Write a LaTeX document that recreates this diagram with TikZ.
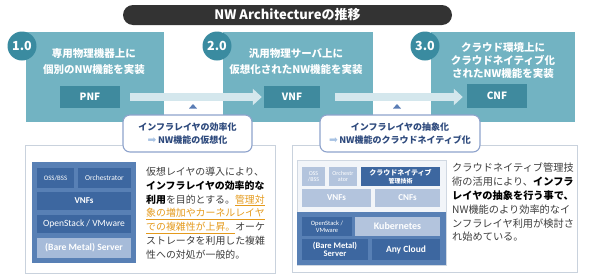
\documentclass[tikz,border=0pt]{standalone}
\usepackage{fontspec}
\setmainfont{Noto Sans CJK JP}
\newfontfamily\lat{Carlito}
\newfontfamily\sym{DejaVu Sans}
\usetikzlibrary{arrows.meta}
\definecolor{verteal}{HTML}{72B3C2}
\definecolor{circteal}{HTML}{3A8BA0}
\definecolor{nfteal}{HTML}{3F8A9E}
\definecolor{arrlight}{HTML}{D4E7ED}
\definecolor{titlebg}{HTML}{333333}
\definecolor{navy}{HTML}{2E4A7D}
\definecolor{callborder}{HTML}{8EA3CC}
\definecolor{tricol}{HTML}{5A7DB5}
\definecolor{panelborder}{HTML}{C9D2DD}
\definecolor{frameblue}{HTML}{5880B5}
\definecolor{blockdark}{HTML}{3D67A0}
\definecolor{blocklight}{HTML}{B3C4DD}
\definecolor{baremetal}{HTML}{A6BBD9}
\definecolor{upperbg}{HTML}{F2F5F9}
\definecolor{upperborder}{HTML}{D0D8E2}
\definecolor{textgray}{HTML}{3C3C3C}
\definecolor{hiorange}{HTML}{E49A1C}
\definecolor{arrowicon}{HTML}{A7C2E3}
\begin{document}
\begin{tikzpicture}[x=1pt,y=-1pt,
  verbox/.style={fill=verteal, draw=none, minimum height=90, inner sep=0},
  vertext/.style={text=white, font=\fontsize{10.5}{16.5}\selectfont\bfseries, align=center, inner sep=0},
  vercirc/.style={circle, fill=circteal, minimum size=29, inner sep=0, text=white, font=\fontsize{12.5}{14}\selectfont\bfseries},
  nfbox/.style={fill=nfteal, minimum height=22, inner sep=0, text=white, font=\fontsize{10}{12}\selectfont\bfseries},
  bigarrow/.style={draw=arrlight, line width=8pt, -{Triangle[length=9pt,width=16pt]}},
  callout/.style={draw=callborder, line width=1.1pt, fill=white, rounded corners=7pt, align=center, text=navy, font=\fontsize{9}{13}\selectfont\bfseries, inner sep=0},
  panel/.style={draw=panelborder, line width=0.8pt, inner sep=0},
  dblk/.style={fill=blockdark, text=white, inner sep=0, align=center, font=\lat\fontsize{7.5}{8}\selectfont},
  lblk/.style={fill=blocklight, text=white, inner sep=0, align=center, font=\lat\fontsize{7.5}{8}\selectfont},
  desc/.style={align=left, inner sep=0, text=textgray}
]
\useasboundingbox (0,0) rectangle (590,279);

% title
\node[fill=titlebg, rounded corners=10pt, minimum width=329, minimum height=20, inner sep=0,
  text=white, font=\fontsize{13}{15}\selectfont\bfseries] (title) at (287.5,15) {NW Architectureの推移};

% version boxes
\node[verbox, minimum width=138] (box1) at (95,77) {};
\node[verbox, minimum width=150] (box2) at (298,77) {};
\node[verbox, minimum width=144] (box3) at (503,77) {};

\node[vertext] (t1) at (94,61.5) {専用物理機器上に\\個別のNW機能を実装};
\node[vertext] (t2) at (296,61.5) {汎用物理サーバ上に\\仮想化されたNW機能を実装};
\node[vertext, font=\fontsize{10.5}{13}\selectfont\bfseries] (t3) at (503,61) {クラウド環境上に\\クラウドネイティブ化\\されたNW機能を実装};

\node[nfbox, minimum width=60] (PNF) at (90,97) {PNF};
\node[nfbox, minimum width=56] (VNF) at (292,97) {VNF};
\node[nfbox, minimum width=60, minimum height=24] (CNF) at (497,95.5) {CNF};

\draw[bigarrow, shorten <=10pt, shorten >=2pt] (PNF.east) -- (VNF.west);
\draw[bigarrow, shorten <=15pt, shorten >=4pt] (VNF.east) -- (CNF.west |- VNF.west);

\node[vercirc] (c1) at (22,46) {1.0};
\node[vercirc] (c2) at (217,46) {2.0};
\node[vercirc] (c3) at (425,46) {3.0};

% small triangles
\fill[tricol] (189,108.5) -- (197,108.5) -- (193,104) -- cycle;
\fill[tricol] (393,108.5) -- (401,108.5) -- (397,104) -- cycle;

% panels
\node[panel, minimum width=250, minimum height=128] (panelL) at (150,209) {};
\node[panel, minimum width=285, minimum height=127] (panelR) at (434.5,208.5) {};

% callouts
\node[callout, minimum width=129, minimum height=37] (call1) at (187.5,133.5)
  {インフラレイヤの効率化\\{\sym\mdseries\fontsize{10.5}{13}\selectfont\color{arrowicon}➡}\,NW機能の仮想化};
\node[callout, minimum width=160, minimum height=37] (call2) at (400,133.5)
  {インフラレイヤの抽象化\\{\sym\mdseries\fontsize{10.5}{13}\selectfont\color{arrowicon}➡}\,NW機能のクラウドネイティブ化};

% left stack
\node[fill=frameblue, minimum width=104, minimum height=101, inner sep=0] (lframe) at (84,212.5) {};
\node[dblk, minimum width=37, minimum height=20, font=\lat\fontsize{6.8}{7}\selectfont] (lOSS) at (55.5,178) {OSS/BSS};
\node[dblk, minimum width=53, minimum height=20, font=\lat\fontsize{7.5}{8}\selectfont] (lOrch) at (104.5,178) {Orchestrator};
\node[dblk, minimum width=94, minimum height=18, font=\lat\fontsize{9}{10}\selectfont\bfseries] (lVNFs) at (84,201) {VNFs};
\node[dblk, minimum width=94, minimum height=18, font=\lat\fontsize{9.5}{10}\selectfont] (lOpen) at (84,224) {OpenStack / VMware};
\node[dblk, fill=baremetal, minimum width=94, minimum height=20, font=\lat\fontsize{9.6}{10}\selectfont\bfseries] (lBare) at (84,248) {(Bare Metal) Server};

\node[desc, anchor=north west, font=\fontsize{9.9}{13.8}\selectfont] (ldesc) at (146,167)
  {仮想レイヤの導入により、\\
   {\bfseries\color{black}インフラレイヤの効率的な}\\
   {\bfseries\color{black}利用}を目的とする。{\color{hiorange}\underline{管理対}}\\
   {\color{hiorange}\underline{象の増加やカーネルレイヤ}}\\
   {\color{hiorange}\underline{での複雑性が上昇。}}オーケ\\
   ストレータを利用した複雑\\
   性への対処が一般的。};

% right stack
\node[fill=upperbg, draw=upperborder, line width=0.6pt, minimum width=149, minimum height=105, inner sep=0] (rframeup) at (371.5,212.5) {};
\node[fill=frameblue, minimum width=149, minimum height=53, inner sep=0] (rframe) at (371.5,238.5) {};
\node[lblk, minimum width=23, minimum height=19, font=\lat\fontsize{6}{6.5}\selectfont] (rOSS) at (313.5,176.5) {OSS\\/BSS};
\node[lblk, minimum width=28, minimum height=19, font=\lat\fontsize{6}{6.5}\selectfont] (rOrch) at (343,176.5) {Orchestr\\ator};
\node[dblk, minimum width=79, minimum height=19, font=\fontsize{7}{8}\selectfont\bfseries] (rMgmt) at (400.5,176.5) {クラウドネイティブ\\{\fontsize{6}{7}\selectfont 管理技術}};
\node[lblk, minimum width=69, minimum height=18, font=\lat\fontsize{9}{10}\selectfont\bfseries] (rVNFs) at (336.5,198) {VNFs};
\node[lblk, minimum width=65, minimum height=18, font=\lat\fontsize{9}{10}\selectfont\bfseries] (rCNFs) at (407.5,198) {CNFs};
\node[dblk, minimum width=50, minimum height=19, font=\lat\fontsize{6.5}{7}\selectfont] (rOpen) at (327,226.5) {OpenStack /\\VMware};
\node[lblk, minimum width=85, minimum height=19, font=\lat\fontsize{10}{11}\selectfont\bfseries] (rKube) at (397.5,226.5) {Kubernetes};
\node[dblk, minimum width=66, minimum height=21, font=\lat\fontsize{8.5}{8.5}\selectfont\bfseries] (rBare) at (335,249.5) {(Bare Metal)\\Server};
\node[dblk, minimum width=68, minimum height=21, font=\lat\fontsize{9.5}{10}\selectfont\bfseries] (rAny) at (406,249.5) {Any Cloud};

\node[desc, anchor=north west, text=textgray, font=\fontsize{10.2}{13.8}\selectfont] (rdesc) at (452,163)
  {クラウドネイティブ管理技\\
   術の活用により、{\bfseries\color{black}インフラ}\\
   {\bfseries\color{black}レイヤの抽象を行う事で、}\\
   NW機能のより効率的なイ\\
   ンフラレイヤ利用が検討さ\\
   れ始めている。};
\end{tikzpicture}
\end{document}
